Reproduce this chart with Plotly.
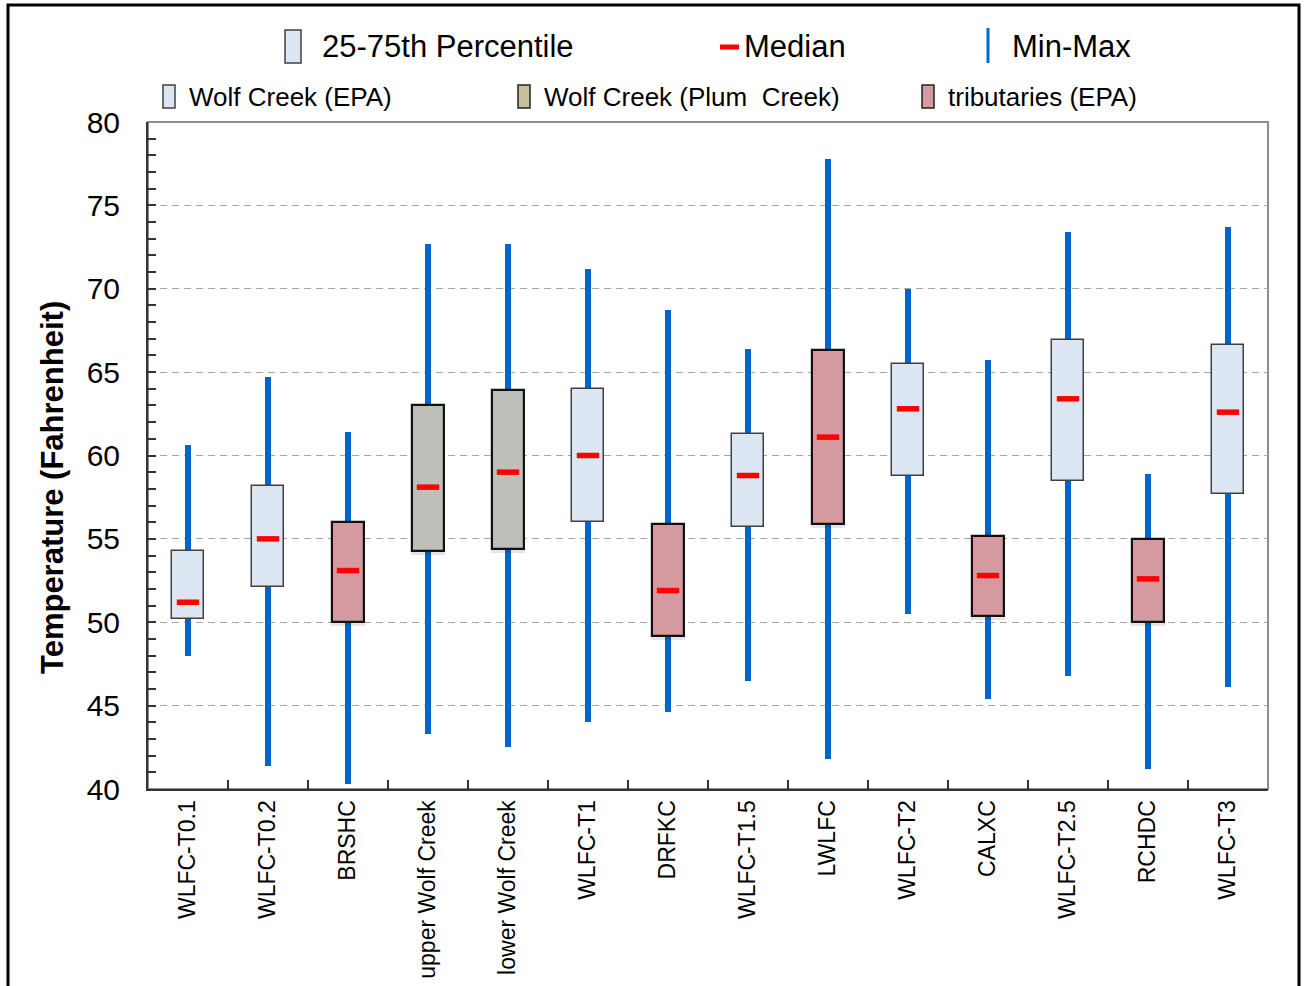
import plotly.graph_objects as go

# Monitoring sites, in plotting order
sites = ["WLFC-T0.1", "WLFC-T0.2", "BRSHC", "upper Wolf Creek", "lower Wolf Creek",
         "WLFC-T1", "DRFKC", "WLFC-T1.5", "LWLFC", "WLFC-T2", "CALXC",
         "WLFC-T2.5", "RCHDC", "WLFC-T3"]
# Data source group of each site
groups = ["epa", "epa", "trib", "plum", "plum", "epa", "trib", "epa", "trib",
          "epa", "trib", "epa", "trib", "epa"]

# Temperature summary statistics (degrees Fahrenheit)
t_min = [48.0, 41.4, 40.3, 43.3, 42.5, 44.0, 44.6, 46.5, 41.8, 50.5, 45.4, 46.8, 41.2, 46.1]
t_q1 = [50.2, 52.1, 50.0, 54.3, 54.4, 56.0, 49.2, 55.7, 55.9, 58.8, 50.4, 58.5, 50.0, 57.7]
t_med = [51.2, 55.0, 53.1, 58.1, 59.0, 60.0, 51.9, 58.8, 61.1, 62.8, 52.8, 63.4, 52.6, 62.6]
t_q3 = [54.3, 58.2, 56.0, 63.0, 63.9, 64.0, 55.9, 61.3, 66.3, 65.5, 55.2, 66.9, 55.0, 66.6]
t_max = [60.6, 64.7, 61.4, 72.7, 72.7, 71.2, 68.7, 66.4, 77.8, 70.0, 65.7, 73.4, 58.9, 73.7]

y_ticks = [40, 45, 50, 55, 60, 65, 70, 75, 80]

FONT = "Arial, 'Liberation Sans', sans-serif"
WHISKER = "#0066CC"
MEDIAN = "#FF0000"
FILL = {"epa": "#DCE6F2", "plum": "#BCC0B9", "trib": "#D59AA0"}
EDGE = {"epa": "#404040", "plum": "#111111", "trib": "#111111"}
EDGE_W = {"epa": 1.5, "plum": 2.2, "trib": 2.2}

# Page and plot-area geometry (pixels)
W, H = 1305, 986
L, R, T, B = 148, 1268, 122, 789


def px(x):
    return (x - L) / (R - L)


def py(y):
    return (B - y) / (B - T)


fig = go.Figure()

# Min-max whiskers
fig.add_trace(go.Bar(
    x=sites, base=t_min, y=[hi - lo for lo, hi in zip(t_min, t_max)],
    width=0.063, marker=dict(color=WHISKER, line=dict(width=0)),
    showlegend=False, hoverinfo="skip"))

# Soft shadow under the darker-edged boxes
shadow_sites = [s for s, g in zip(sites, groups) if g != "epa"]
shadow_base = [q1 - 0.25 for q1, g in zip(t_q1, groups) if g != "epa"]
shadow_h = [q3 - q1 for q1, q3, g in zip(t_q1, t_q3, groups) if g != "epa"]
fig.add_trace(go.Bar(
    x=shadow_sites, base=shadow_base, y=shadow_h, width=0.43,
    marker=dict(color="rgba(0,0,0,0.10)", line=dict(width=0)),
    showlegend=False, hoverinfo="skip"))

# 25-75th percentile boxes
fig.add_trace(go.Bar(
    x=sites, base=t_q1, y=[q3 - q1 for q1, q3 in zip(t_q1, t_q3)],
    width=0.4,
    marker=dict(color=[FILL[g] for g in groups],
                line=dict(color=[EDGE[g] for g in groups],
                          width=[EDGE_W[g] for g in groups])),
    showlegend=False, hoverinfo="skip"))

# Medians
fig.add_trace(go.Scatter(
    x=sites, y=t_med, mode="markers",
    marker=dict(symbol="line-ew", size=16, line=dict(color=MEDIAN, width=5.5)),
    showlegend=False, hoverinfo="skip"))

shapes = []
annotations = []

# Plot-area frame (top/right edges in grey)
shapes.append(dict(type="rect", xref="paper", yref="paper", x0=0, x1=1, y0=0, y1=1,
                   line=dict(color="#8C8C8C", width=2), layer="below"))
# Outer page frame
shapes.append(dict(type="rect", xref="paper", yref="paper",
                   x0=px(8), x1=px(1299), y0=py(1000), y1=py(5),
                   line=dict(color="#000000", width=3)))

# Legend row 1: box / median / min-max keys
shapes.append(dict(type="rect", xref="paper", yref="paper",
                   x0=px(285), x1=px(301), y0=py(63), y1=py(30),
                   fillcolor=FILL["epa"], line=dict(color="#404040", width=1.5)))
shapes.append(dict(type="line", xref="paper", yref="paper",
                   x0=px(720), x1=px(739), y0=py(47), y1=py(47),
                   line=dict(color=MEDIAN, width=5)))
shapes.append(dict(type="line", xref="paper", yref="paper",
                   x0=px(988), x1=px(988), y0=py(63), y1=py(28),
                   line=dict(color=WHISKER, width=3)))
row1 = [("25-75th Percentile", 320), ("Median", 742), ("Min-Max", 1010)]
for text, x in row1:
    annotations.append(dict(text=text, xref="paper", yref="paper", x=px(x), y=py(47),
                            xanchor="left", yanchor="middle", showarrow=False,
                            font=dict(family=FONT, size=31, color="#000000")))

# Legend row 2: data source keys
row2 = [("Wolf Creek (EPA)", 163, FILL["epa"], "#404040"),
        ("Wolf Creek (Plum\u00a0 Creek)", 518, "#C8C09C", "#222222"),
        ("tributaries (EPA)", 922, FILL["trib"], "#222222")]
for text, x, fill, edge in row2:
    shapes.append(dict(type="rect", xref="paper", yref="paper",
                       x0=px(x), x1=px(x + 12), y0=py(108), y1=py(85),
                       fillcolor=fill, line=dict(color=edge, width=1.5)))
    annotations.append(dict(text=text, xref="paper", yref="paper", x=px(x + 24), y=py(97),
                            xanchor="left", yanchor="middle", showarrow=False,
                            font=dict(family=FONT, size=26, color="#000000")))

# Y-axis title
annotations.append(dict(text="<b>Temperature (Fahrenheit)</b>", xref="paper", yref="paper",
                        x=px(52), y=py(488), textangle=-90, xanchor="center",
                        yanchor="middle", showarrow=False,
                        font=dict(family=FONT, size=31, color="#000000")))

fig.update_layout(
    width=W, height=H,
    margin=dict(l=L, r=W - R, t=T, b=H - B, pad=0, autoexpand=False),
    paper_bgcolor="#FFFFFF", plot_bgcolor="#FFFFFF",
    barmode="overlay", bargap=0,
    font=dict(family=FONT, color="#000000"),
    shapes=shapes, annotations=annotations,
    showlegend=False,
    xaxis=dict(
        type="category", range=[-0.5, len(sites) - 0.5], automargin=False,
        showgrid=False, showline=True, linecolor="#333333", linewidth=2,
        ticks="inside", tickson="boundaries", ticklen=9, tickcolor="#333333",
        tickwidth=1.5, tickangle=-90, tickfont=dict(family=FONT, size=23, color="#000000"),
    ),
    yaxis=dict(
        range=[40, 80], tickvals=y_ticks, ticktext=[str(v) for v in y_ticks],
        automargin=False,
        showline=True, linecolor="#333333", linewidth=2,
        ticks="inside", ticklen=8, tickcolor="#333333", tickwidth=1.5,
        tickfont=dict(family=FONT, size=30, color="#000000"),
        ticklabelstandoff=20,
        showgrid=True, gridcolor="#A6A6A6", gridwidth=1, griddash="7px,5px",
        zeroline=False,
        minor=dict(dtick=1, ticks="inside", ticklen=8, tickcolor="#333333",
                   tickwidth=1.5, showgrid=False),
    ),
)

fig.write_html("out.html")
